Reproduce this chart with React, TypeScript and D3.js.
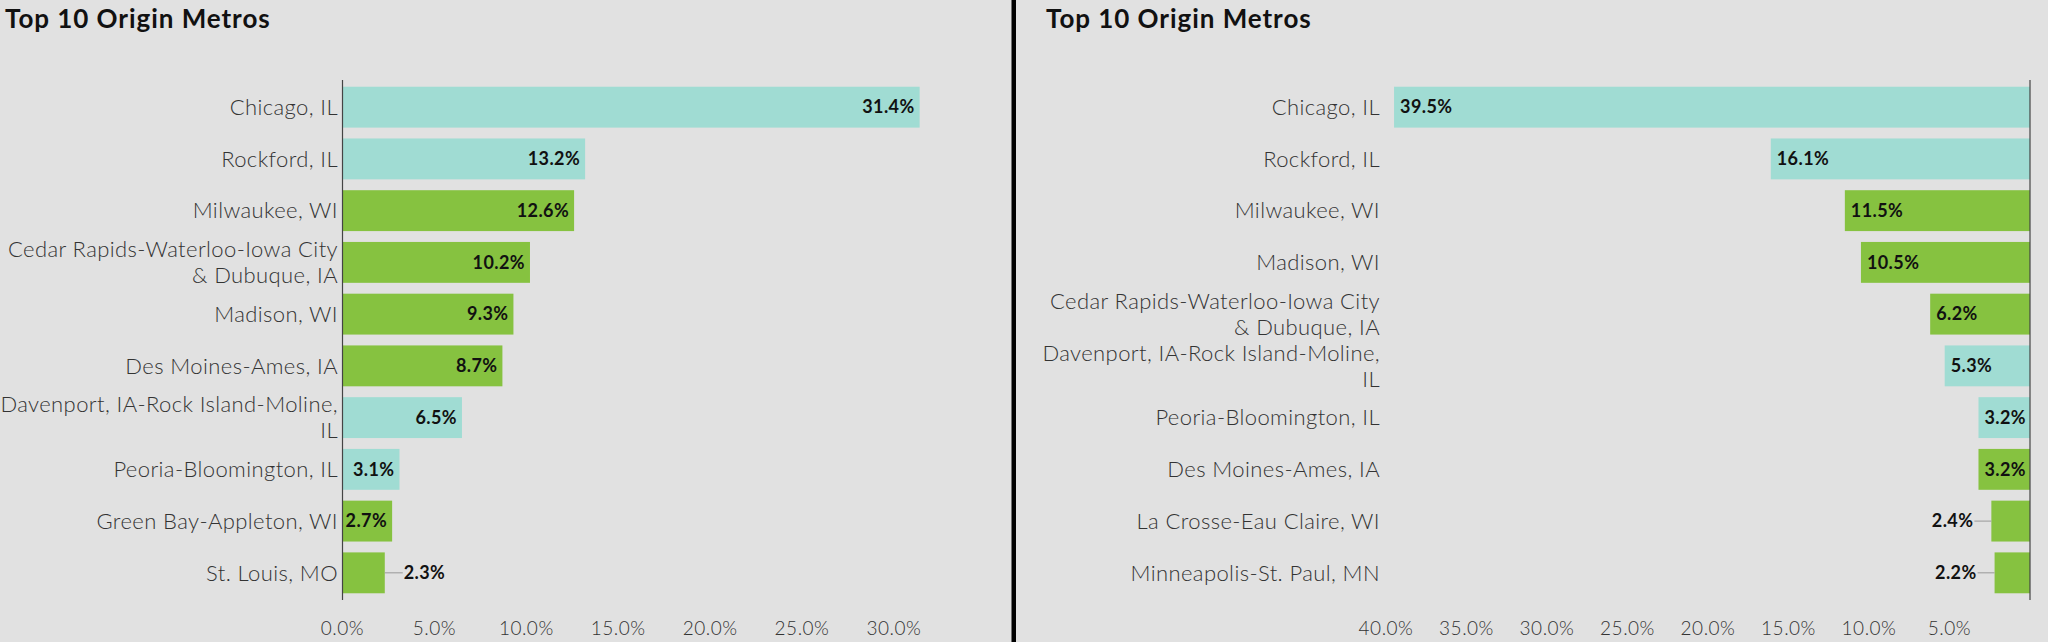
import React, { useEffect, useRef } from "react";
import * as d3 from "d3";

const TITLE = "Top 10 Origin Metros";

const leftCategories = [
  "Chicago, IL",
  "Rockford, IL",
  "Milwaukee, WI",
  "Cedar Rapids-Waterloo-Iowa City|& Dubuque, IA",
  "Madison, WI",
  "Des Moines-Ames, IA",
  "Davenport, IA-Rock Island-Moline,|IL",
  "Peoria-Bloomington, IL",
  "Green Bay-Appleton, WI",
  "St. Louis, MO",
];
const leftValues = [31.4, 13.2, 12.6, 10.2, 9.3, 8.7, 6.5, 3.1, 2.7, 2.3];
const leftGroups = ["IL", "IL", "other", "other", "other", "other", "IL", "IL", "other", "other"];
const leftTicks = [0, 5, 10, 15, 20, 25, 30];

const rightCategories = [
  "Chicago, IL",
  "Rockford, IL",
  "Milwaukee, WI",
  "Madison, WI",
  "Cedar Rapids-Waterloo-Iowa City|& Dubuque, IA",
  "Davenport, IA-Rock Island-Moline,|IL",
  "Peoria-Bloomington, IL",
  "Des Moines-Ames, IA",
  "La Crosse-Eau Claire, WI",
  "Minneapolis-St. Paul, MN",
];
const rightValues = [39.5, 16.1, 11.5, 10.5, 6.2, 5.3, 3.2, 3.2, 2.4, 2.2];
const rightGroups = ["IL", "IL", "other", "other", "other", "IL", "IL", "other", "other", "other"];
const rightTicks = [40, 35, 30, 25, 20, 15, 10, 5];

const COLORS: Record<string, string> = { IL: "#a0dcd3", other: "#86c240" };
const BG = "#e1e1e1";
const FONT = "Lato, 'Open Sans', sans-serif";

export default function App() {
  const ref = useRef<SVGSVGElement | null>(null);

  useEffect(() => {
    document.body.style.margin = "0";
    const svg = d3.select(ref.current);
    svg.selectAll("*").remove();
    svg.append("rect").attr("width", 2048).attr("height", 642).attr("fill", BG);

    const y = (cats: string[]) =>
      d3.scaleBand<string>().domain(cats).range([80, 600]).paddingInner(0.21).paddingOuter(0.13);

    const fmt = (v: number) => d3.format(".1f")(v) + "%";

    function panel(
      titleX: number,
      cats: string[],
      vals: number[],
      groups: string[],
      ticks: number[],
      x: d3.ScaleLinear<number, number>,
      reversed: boolean,
      labelRight: number
    ) {
      const g = svg.append("g");
      const ys = y(cats);
      const x0 = x(0);
      g.append("text")
        .attr("x", titleX)
        .attr("y", 28)
        .attr("font-family", FONT)
        .attr("font-weight", 700)
        .attr("font-size", 26)
        .attr("letter-spacing", 0.95)
        .attr("fill", "#111")
        .text(TITLE);

      cats.forEach((c, i) => {
        const v = vals[i];
        const xv = x(v);
        g.append("rect")
          .attr("x", Math.min(x0, xv))
          .attr("y", ys(c)!)
          .attr("width", Math.abs(xv - x0))
          .attr("height", ys.bandwidth())
          .attr("fill", COLORS[groups[i]]);
      });

      g.append("line")
        .attr("x1", x0)
        .attr("x2", x0)
        .attr("y1", 80)
        .attr("y2", 600)
        .attr("stroke", "#444")
        .attr("stroke-width", 1.2);

      cats.forEach((c) => {
        const lines = c.split("|");
        const cy = ys(c)! + ys.bandwidth() / 2;
        const lh = 26;
        lines.forEach((ln, k) => {
          g.append("text")
            .attr("x", labelRight)
            .attr("y", cy + (k - (lines.length - 1) / 2) * lh)
            .attr("dy", "0.35em")
            .attr("text-anchor", "end")
            .attr("font-family", FONT)
            .attr("font-weight", 300)
            .attr("font-size", 22)
            .attr("letter-spacing", 0.4)
            .attr("fill", "#333")
            .text(ln);
        });
      });

      cats.forEach((c, i) => {
        const v = vals[i];
        const xv = x(v);
        const cy = ys(c)! + ys.bandwidth() / 2;
        const t = g
          .append("text")
          .attr("y", cy)
          .attr("dy", "0.35em")
          .attr("font-family", FONT)
          .attr("font-weight", 700)
          .attr("font-size", 18)
          .attr("letter-spacing", 0.4)
          .attr("fill", "#111")
          .text(fmt(v));
        const w = (t.node() as SVGTextElement).getComputedTextLength();
        const pad = 5;
        if (!reversed) {
          if (xv - pad - w >= x0 + 1) {
            t.attr("x", xv - pad).attr("text-anchor", "end");
          } else {
            g.append("line")
              .attr("x1", xv)
              .attr("x2", xv + 18)
              .attr("y1", cy)
              .attr("y2", cy)
              .attr("stroke", "#999")
              .attr("stroke-width", 1);
            t.attr("x", xv + 19).attr("text-anchor", "start");
          }
        } else {
          if (xv + pad + w <= x0 - 1) {
            t.attr("x", xv + pad + 1).attr("text-anchor", "start");
          } else {
            g.append("line")
              .attr("x1", xv)
              .attr("x2", xv - 17)
              .attr("y1", cy)
              .attr("y2", cy)
              .attr("stroke", "#999")
              .attr("stroke-width", 1);
            t.attr("x", xv - 18).attr("text-anchor", "end");
          }
        }
      });

      ticks.forEach((tk) => {
        g.append("text")
          .attr("x", x(tk))
          .attr("y", 635)
          .attr("text-anchor", "middle")
          .attr("font-family", FONT)
          .attr("font-weight", 300)
          .attr("font-size", 19)
          .attr("letter-spacing", 0.5)
          .attr("fill", "#333")
          .text(fmt(tk));
      });
    }

    const xLeft = d3.scaleLinear().domain([0, 33]).range([342.5, 342.5 + 33 * 18.38]);
    const xRight = d3.scaleLinear().domain([0, 40]).range([2030, 1386]);

    panel(5, leftCategories, leftValues, leftGroups, leftTicks, xLeft, false, 338);
    panel(1046, rightCategories, rightValues, rightGroups, rightTicks, xRight, true, 1380);

    svg.append("rect").attr("x", 1011.5).attr("y", 0).attr("width", 4.5).attr("height", 642).attr("fill", "#000");
  }, []);

  return (
    <svg
      ref={ref}
      width={2048}
      height={642}
      style={{ position: "absolute", left: 0, top: 0, display: "block" }}
    />
  );
}
